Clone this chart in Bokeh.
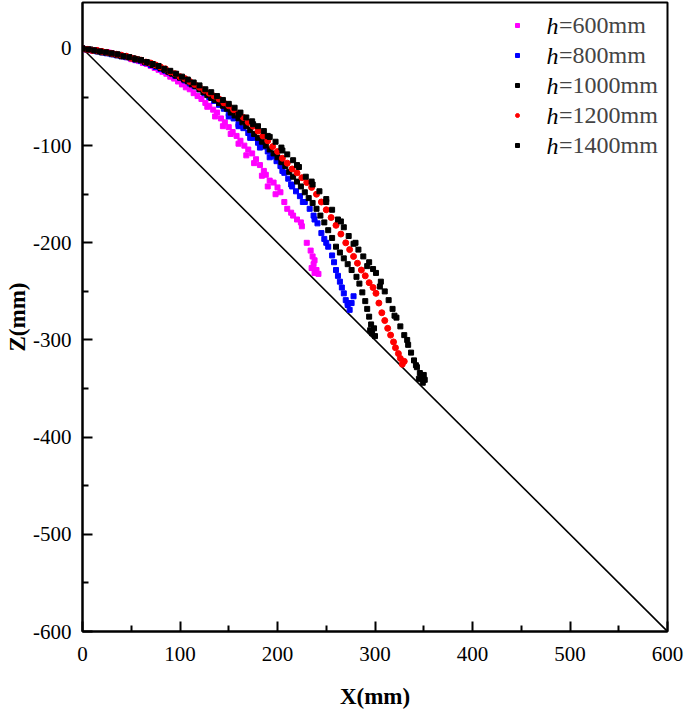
from bokeh.plotting import figure
from bokeh.models import FixedTicker, Legend, LegendItem, Label, Range1d
from bokeh.embed import file_html
from bokeh.resources import INLINE

# ---- data ----
x600 = [0, 3, 6, 10, 14, 18, 22, 26, 30, 34, 38, 42, 46, 50, 54, 58, 62, 66, 70, 74, 78, 82, 86, 90, 94, 98,
        102, 106, 110, 114, 118, 122, 126, 130, 134, 138, 142, 146, 150, 154, 158, 162, 166, 170, 174, 178,
        182, 186, 188, 192, 196, 200, 203, 207, 214, 216, 224, 225, 234, 236, 237, 238, 240, 235,
        128, 136, 144, 152, 160, 168, 176, 184, 190, 198, 210, 220, 230, 238, 242]
z600 = [0, -1, -1, -2, -2, -3, -4, -4, -5, -6, -7, -8, -9, -11, -12, -13, -15, -16, -18, -20, -22, -24, -26, -29,
        -31, -34, -37, -40, -42, -46, -49, -52, -56, -59, -63, -66, -72, -76, -81, -86, -90, -95, -100, -104,
        -108, -114, -120, -126, -130, -136, -138, -143, -148, -158, -169, -172, -179, -183, -208, -214, -222,
        -231, -228, -226,
        -60, -70, -80, -88, -98, -110, -118, -131, -142, -150, -165, -176, -200, -218, -232]

x800 = [0, 5, 10, 15, 20, 25, 30, 35, 40, 45, 50, 55, 60, 65, 70, 75, 80, 85, 90, 95, 100, 105, 110, 115, 120,
        125, 130, 135, 140, 145, 150, 155, 160, 165, 170, 175, 180, 185, 190, 195, 199, 203, 207, 211, 215, 219,
        223, 228, 233, 237, 241, 245, 248, 252, 256, 258, 262, 264, 268, 270, 272, 274, 276, 278,
        150, 160, 172, 182, 192, 205, 214, 226, 238, 250, 260, 266, 272]
z800 = [0, -1, -2, -3, -4, -5, -6, -7, -8, -9, -10, -12, -13, -15, -17, -19, -21, -23, -25, -28, -30, -33, -36,
        -39, -42, -46, -50, -54, -58, -62, -67, -72, -78, -82, -87, -92, -97, -101, -106, -111, -116, -121, -128,
        -134, -142, -147, -152, -158, -165, -172, -180, -190, -196, -204, -213, -220, -234, -240, -252, -259,
        -264, -269, -262, -255,
        -70, -80, -92, -102, -112, -126, -140, -158, -176, -200, -228, -246, -262]

x1000 = [0, 4, 8, 12, 16, 20, 24, 28, 32, 36, 40, 44, 48, 52, 56, 60, 64, 68, 72, 76, 80, 84, 88, 92, 96, 100,
         104, 108, 112, 116, 120, 124, 128, 132, 136, 140, 144, 148, 152, 156, 160, 164, 168, 172, 176, 180, 184,
         188, 192, 196, 200, 204, 208, 212, 216, 220, 224, 228, 232, 236, 240, 244, 248, 252, 256, 260, 264, 268,
         272, 276, 281, 284, 287, 290, 292, 294, 296, 297, 299, 300, 295]
z1000 = [0, -1, -1, -2, -3, -4, -4, -5, -6, -7, -8, -8, -9, -10, -11, -12, -14, -15, -17, -18, -20, -22, -24, -26,
         -28, -30, -32, -34, -37, -39, -42, -45, -48, -51, -53, -56, -59, -62, -66, -69, -72, -76, -80, -84, -88,
         -92, -96, -100, -104, -108, -112, -117, -121, -127, -132, -137, -142, -148, -154, -159, -165, -172, -179,
         -187, -195, -204, -210, -216, -222, -228, -235, -242, -251, -260, -268, -276, -284, -293, -288, -296, -290]

x1200 = [0, 5, 10, 15, 20, 25, 30, 35, 40, 45, 50, 55, 60, 65, 70, 75, 80, 85, 90, 95, 100, 105, 110, 115, 120,
         125, 130, 135, 140, 145, 150, 155, 160, 165, 170, 175, 180, 185, 190, 195, 200, 205, 210, 215, 220, 225,
         230, 235, 240, 245, 250, 255, 260, 265, 270, 274, 278, 282, 286, 290, 294, 298, 301, 304, 307, 310, 313,
         316, 319, 321, 324, 326, 328, 330]
z1200 = [0, -1, -2, -2, -3, -4, -5, -6, -7, -8, -10, -11, -12, -14, -15, -17, -19, -21, -24, -26, -29, -31, -34,
         -37, -40, -43, -46, -49, -52, -56, -59, -63, -67, -71, -76, -80, -85, -90, -95, -101, -106, -113, -118,
         -124, -128, -133, -138, -143, -150, -158, -166, -174, -182, -191, -200, -207, -214, -221, -228, -234,
         -241, -246, -252, -262, -272, -280, -288, -295, -302, -308, -314, -319, -325, -322]

x1400 = [0, 6, 12, 18, 24, 30, 36, 42, 48, 54, 60, 66, 72, 78, 84, 90, 96, 102, 108, 114, 120, 126, 132, 138, 144,
         150, 156, 162, 168, 174, 180, 186, 192, 198, 204, 210, 216, 222, 229, 236, 243, 250, 256, 262, 268, 273,
         278, 283, 288, 294, 298, 301, 306, 310, 314, 318, 322, 326, 330, 334, 337, 340, 343, 346, 348, 351, 345, 349,
         160, 175, 190, 205, 220, 235, 250, 265, 280, 292, 305, 320, 333, 342, 350]
z1400 = [0, -1, -2, -3, -4, -5, -6, -8, -9, -11, -12, -14, -16, -18, -21, -23, -26, -29, -32, -35, -38, -42, -45,
         -49, -53, -57, -61, -66, -71, -75, -80, -85, -91, -96, -102, -109, -115, -122, -132, -140, -147, -158,
         -166, -176, -184, -193, -201, -207, -214, -220, -227, -231, -240, -250, -259, -268, -277, -286, -295,
         -305, -313, -321, -328, -334, -338, -341, -340, -344,
         -68, -78, -90, -105, -120, -137, -155, -178, -200, -224, -245, -275, -300, -326, -336]

line_x = [0, 600]
line_z = [0, -600]

x_ticks = [0, 100, 200, 300, 400, 500, 600]
x_labels = ["0", "100", "200", "300", "400", "500", "600"]
z_ticks = [-600, -500, -400, -300, -200, -100, 0]
z_labels = ["-600", "-500", "-400", "-300", "-200", "-100", "0"]
x_minor = [50, 150, 250, 350, 450, 550]
z_minor = [-550, -450, -350, -250, -150, -50]

legend_labels = ["=600mm", "=800mm", "=1000mm", "=1200mm", "=1400mm"]

FONT = "Liberation Serif"

p = figure(width=685, height=711, x_range=Range1d(0, 600), y_range=Range1d(-600, 47.3),
           output_backend="svg", toolbar_location=None,
           min_border_left=82, min_border_right=18, min_border_top=2, min_border_bottom=79)
p.grid.visible = False
p.outline_line_color = "black"
p.outline_line_width = 2
p.background_fill_color = "white"
p.border_fill_color = "white"

p.line(line_x, line_z, line_color="black", line_width=1.6)

r600 = p.scatter(x600, z600, marker="square", size=5, fill_color="#ff00ff", line_color="#ff00ff")
r800 = p.scatter(x800, z800, marker="square", size=5, fill_color="#0000ff", line_color="#0000ff")
r1000 = p.scatter(x1000, z1000, marker="square", size=5, fill_color="black", line_color="black")
r1200 = p.scatter(x1200, z1200, marker="circle", size=6, fill_color="#ff0000", line_color="#ff0000")
r1400 = p.scatter(x1400, z1400, marker="square", size=5, fill_color="black", line_color="black")

for ax, ticks, labels, minor in ((p.xaxis[0], x_ticks, x_labels, x_minor),
                                 (p.yaxis[0], z_ticks, z_labels, z_minor)):
    ax.ticker = FixedTicker(ticks=ticks, minor_ticks=minor)
    ax.major_label_overrides = {t: l for t, l in zip(ticks, labels)}
    ax.major_tick_in = 10
    ax.major_tick_out = 0
    ax.minor_tick_in = 6
    ax.minor_tick_out = 0
    ax.axis_line_width = 2
    ax.major_tick_line_width = 2
    ax.minor_tick_line_width = 2
    ax.major_label_text_font = FONT
    ax.major_label_text_font_size = "21px"
    ax.major_label_text_color = "black"
    ax.axis_label_text_font = FONT
    ax.axis_label_text_font_style = "bold"
    ax.axis_label_text_font_size = "23px"
    ax.axis_label_text_color = "black"

p.xaxis.axis_label = "X(mm)"
p.xaxis.major_label_standoff = 15
p.xaxis.axis_label_standoff = 20
p.yaxis.axis_label = "Z(mm)"
p.yaxis.major_label_standoff = 11
p.yaxis.axis_label_standoff = 0

renderers = [r600, r800, r1000, r1200, r1400]
legend = Legend(items=[LegendItem(label=l, renderers=[r]) for l, r in zip(legend_labels, renderers)],
                location=(430, 471), orientation="vertical",
                glyph_width=10, glyph_height=30, label_height=30, spacing=0,
                padding=0, margin=0, label_standoff=37,
                label_text_font=FONT, label_text_font_size="24px",
                border_line_color=None, background_fill_alpha=0)
p.add_layout(legend)

frame_h = 630
for i in range(len(legend_labels)):
    p.add_layout(Label(x=464, y=frame_h - (24 + 30 * i), x_units="screen", y_units="screen",
                       text="h", text_font=FONT, text_font_style="italic", text_font_size="24px",
                       text_baseline="middle", text_align="left", text_color="black"))

open("out.html", "w").write(file_html(p, INLINE))
